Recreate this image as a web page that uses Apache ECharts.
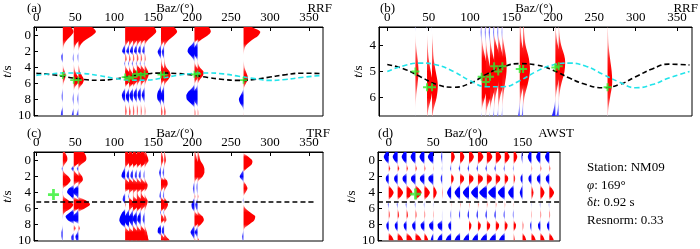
<!DOCTYPE html>
<html>
<head>
<meta charset="utf-8">
<script src="https://cdn.jsdelivr.net/npm/echarts@6/dist/echarts.min.js"></script>
<style>
  html, body { margin: 0; padding: 0; background: #fff; }
  #main { width: 700px; height: 249px; }
</style>
</head>
<body>
<div id="main"></div>
<script>
// time samples (s) shared by every trace
var times = [-1.5, -1, -0.5, 0, 0.5, 1, 1.5, 2, 2.5, 3, 3.5, 4, 4.5, 5, 5.5, 6, 6.5, 7, 7.5, 8, 8.5, 9, 9.5, 10];

// back azimuths of the receiver functions
var rfBaz = [34, 48, 54, 114, 119, 124, 129, 134, 139, 160, 164, 203, 207, 266];
// picked Ps times (green crosses)
var psTime = [5.0, 5.6, 5.6, 5.2, 5.4, 5.2, 4.8, 5.0, 4.8, 4.9, 4.9, 4.85, 4.8, 5.6];

var rrfTraces = [
  [0.25,0.45,0.55,0.42,0.22,0.08,0.02,0.00,-0.08,-0.07,0.00,0.03,0.10,0.15,0.10,0.03,0.00,-0.03,-0.06,-0.05,0.00,-0.02,-0.08,-0.10],
  [0.40,0.70,0.85,0.65,0.35,0.13,0.04,0.00,-0.04,-0.05,0.00,0.03,0.08,0.18,0.28,0.20,0.05,0.00,-0.04,-0.06,-0.03,0.00,-0.06,-0.10],
  [0.42,0.75,0.90,0.70,0.38,0.15,0.05,0.00,-0.05,-0.04,0.00,0.04,0.08,0.18,0.28,0.22,0.06,0.00,-0.04,-0.06,-0.03,0.00,-0.05,-0.10],
  [0.30,0.55,0.70,0.50,0.25,0.08,-0.10,-0.15,0.05,0.08,-0.05,0.05,0.18,0.30,0.32,0.15,0.00,-0.10,-0.17,-0.12,0.00,0.05,0.08,0.05],
  [0.30,0.55,0.72,0.52,0.25,0.08,-0.08,-0.14,0.04,0.08,-0.05,0.03,0.12,0.25,0.35,0.22,0.03,-0.08,-0.16,-0.14,-0.02,0.04,0.08,0.06],
  [0.32,0.58,0.75,0.55,0.26,0.08,-0.10,-0.15,0.05,0.07,-0.06,0.05,0.18,0.32,0.30,0.12,0.00,-0.10,-0.18,-0.12,0.00,0.05,0.07,0.05],
  [0.32,0.60,0.75,0.55,0.25,0.07,-0.10,-0.14,0.06,0.08,-0.05,0.12,0.30,0.33,0.20,0.06,-0.02,-0.12,-0.17,-0.10,0.00,0.05,0.06,0.04],
  [0.30,0.58,0.72,0.50,0.22,0.05,-0.10,-0.13,0.05,0.07,-0.05,0.10,0.25,0.37,0.26,0.08,-0.02,-0.12,-0.16,-0.10,0.00,0.04,0.06,0.04],
  [0.30,0.52,0.60,0.42,0.18,0.04,-0.08,-0.12,0.04,0.06,-0.04,0.08,0.18,0.20,0.12,0.04,-0.02,-0.10,-0.15,-0.08,0.00,0.03,0.05,0.03],
  [0.30,0.55,0.67,0.50,0.25,0.08,-0.08,-0.17,-0.10,0.02,0.05,0.12,0.28,0.33,0.20,0.05,-0.05,-0.15,-0.20,-0.18,-0.05,0.04,0.08,0.06],
  [0.30,0.55,0.67,0.50,0.25,0.08,-0.05,-0.12,-0.08,0.02,0.05,0.12,0.28,0.33,0.22,0.06,-0.04,-0.12,-0.18,-0.15,-0.04,0.04,0.08,0.06],
  [0.30,0.50,0.55,0.40,0.15,-0.10,-0.30,-0.35,-0.20,-0.05,0.03,0.12,0.28,0.25,0.12,0.02,-0.10,-0.30,-0.42,-0.40,-0.20,-0.02,0.05,0.05],
  [0.35,0.60,0.68,0.50,0.18,-0.05,-0.18,-0.22,-0.15,-0.03,0.03,0.12,0.30,0.28,0.12,0.02,-0.06,-0.20,-0.28,-0.25,-0.10,0.00,0.04,0.04],
  [0.15,0.50,0.86,0.75,0.45,0.20,0.06,0.02,0.00,0.00,0.02,0.05,0.12,0.20,0.22,0.12,0.03,-0.05,-0.15,-0.24,-0.18,-0.05,0.00,0.02]
];

var trfTraces = [
  [0.05,0.12,0.22,0.22,0.08,-0.06,0.08,0.30,0.40,0.25,0.02,-0.02,0.05,0.30,0.54,0.40,0.10,-0.02,0.00,0.00,-0.03,-0.08,-0.08,-0.03],
  [0.15,0.35,0.48,0.45,0.15,-0.12,0.10,0.30,0.32,0.05,-0.25,-0.34,-0.15,0.30,0.50,0.25,-0.20,-0.42,-0.30,0.00,0.10,0.00,-0.12,-0.10],
  [0.12,0.30,0.40,0.38,0.12,-0.08,0.06,0.20,0.22,0.05,-0.20,-0.30,-0.08,0.40,0.60,0.32,-0.10,-0.32,-0.28,0.00,0.08,-0.05,-0.15,-0.10],
  [0.05,0.15,0.28,0.30,0.12,-0.05,-0.15,-0.18,0.10,0.30,0.25,0.00,-0.10,-0.12,0.05,0.00,-0.15,-0.25,-0.30,-0.20,0.05,0.25,0.35,0.30],
  [0.05,0.15,0.28,0.30,0.15,0.00,-0.10,-0.12,0.12,0.30,0.28,0.05,-0.05,0.15,0.30,0.10,-0.10,-0.22,-0.25,-0.15,0.05,0.25,0.35,0.35],
  [0.05,0.15,0.30,0.35,0.15,0.00,-0.10,-0.12,0.10,0.32,0.25,0.05,0.05,0.25,0.35,0.15,-0.08,-0.20,-0.22,-0.10,0.10,0.28,0.35,0.35],
  [0.05,0.18,0.32,0.35,0.15,0.00,-0.08,-0.10,0.10,0.30,0.25,0.05,0.10,0.30,0.35,0.15,-0.05,-0.18,-0.20,-0.08,0.10,0.28,0.35,0.38],
  [0.05,0.18,0.32,0.35,0.15,0.00,-0.08,-0.10,0.10,0.28,0.22,0.05,0.12,0.32,0.30,0.10,-0.05,-0.15,-0.18,-0.05,0.12,0.28,0.35,0.40],
  [0.02,0.08,0.15,0.20,0.08,0.00,-0.05,-0.06,0.05,0.15,0.12,0.00,0.05,0.15,0.12,0.05,-0.02,-0.08,-0.10,-0.03,0.05,0.12,0.15,0.18],
  [0.02,0.05,0.10,0.12,0.05,-0.05,-0.10,-0.05,0.20,0.25,0.10,-0.05,-0.08,0.15,0.25,0.15,-0.05,0.10,0.15,0.00,-0.15,-0.17,0.10,0.30],
  [0.02,0.04,0.08,0.10,0.04,-0.04,-0.08,-0.03,0.15,0.18,0.08,-0.04,-0.06,0.12,0.20,0.12,-0.04,0.08,0.12,0.00,-0.10,-0.12,0.10,0.28],
  [0.03,0.05,0.10,0.15,0.25,0.30,0.30,0.20,0.05,-0.05,-0.08,-0.05,0.05,-0.08,-0.15,-0.12,0.05,0.25,0.30,0.15,-0.10,-0.20,-0.10,0.05],
  [0.03,0.05,0.10,0.15,0.28,0.35,0.35,0.25,0.05,-0.05,-0.06,-0.03,0.05,-0.05,-0.12,-0.08,0.05,0.25,0.32,0.18,-0.05,-0.15,-0.05,0.08],
  [0.00,0.00,0.25,0.45,0.40,0.15,-0.10,-0.20,-0.05,0.12,0.20,0.10,0.00,-0.04,0.00,0.10,0.35,0.60,0.55,0.30,0.05,-0.03,-0.08,-0.05]
];

// AWST stack, one trace every 10 degrees
var awstBaz = [0, 10, 20, 30, 40, 50, 60, 70, 80, 90, 100, 110, 120, 130, 140, 150, 160, 170, 180];
var awstTraces = [
  [-0.15,-0.4,-0.65,-0.4,0.05,0.2,0,-0.35,-0.35,-0.05,0.35,0.65,0.4,0,-0.12,-0.03,0.12,0.14,-0.03,-0.3,-0.25,0,0.4,0.65],
  [-0.15,-0.4,-0.65,-0.4,0.06,0.21,0,-0.42,-0.42,-0.07,0.4,0.72,0.44,0,-0.12,-0.03,0.15,0.18,-0.03,-0.36,-0.3,0,0.45,0.72],
  [-0.15,-0.4,-0.64,-0.4,0.05,0.18,0,-0.48,-0.48,-0.08,0.43,0.77,0.47,0,-0.12,-0.03,0.15,0.18,-0.03,-0.36,-0.3,0,0.5,0.8],
  [-0.15,-0.4,-0.64,-0.4,0.05,0.18,0,-0.54,-0.54,-0.09,0.45,0.81,0.5,0,-0.1,-0.02,0.12,0.14,-0.04,-0.42,-0.35,0,0.5,0.8],
  [-0.15,-0.4,-0.64,-0.4,0.04,0.14,0,-0.54,-0.54,-0.09,0.4,0.72,0.44,0,-0.08,-0.02,0.09,0.1,-0.04,-0.48,-0.4,0,0.3,0.48],
  [-0.18,-0.45,-0.72,-0.45,0.02,0.07,0,-0.6,-0.6,-0.1,0.25,0.45,0.28,0,-0.05,-0.01,0.06,0.07,-0.05,-0.54,-0.45,0,-0.2,-0.32],
  [-0.04,-0.1,-0.16,-0.1,-0.02,-0.07,0,-0.18,-0.18,-0.03,0.05,0.09,0.06,0,0,0,-0.03,-0.04,-0.05,-0.6,-0.5,0,-0.4,-0.64],
  [0.12,0.3,0.48,0.3,-0.04,-0.14,0,0.3,0.3,0.05,-0.3,-0.54,-0.33,0,0.05,0.01,-0.09,-0.1,-0.03,-0.36,-0.3,0,-0.45,-0.72],
  [0.14,0.35,0.56,0.35,-0.05,-0.18,0,0.48,0.48,0.08,-0.4,-0.72,-0.44,0,0.08,0.02,-0.12,-0.14,0,0,0,0,-0.45,-0.72],
  [0.16,0.4,0.64,0.4,-0.05,-0.18,0,0.54,0.54,0.09,-0.45,-0.81,-0.5,0,0.08,0.02,-0.15,-0.18,0.03,0.3,0.25,0,-0.45,-0.72],
  [0.18,0.45,0.72,0.45,-0.05,-0.18,0,0.6,0.6,0.1,-0.5,-0.9,-0.55,0,0.1,0.02,-0.15,-0.18,0.03,0.36,0.3,0,-0.45,-0.72],
  [0.18,0.45,0.72,0.45,-0.05,-0.18,0,0.6,0.6,0.1,-0.55,-1.0,-0.6,0,0.1,0.02,-0.15,-0.18,0.04,0.42,0.35,0,-0.5,-0.8],
  [0.18,0.45,0.72,0.45,-0.05,-0.18,0,0.54,0.54,0.09,-0.55,-1.0,-0.6,0,0.1,0.02,-0.15,-0.18,0.04,0.42,0.35,0,-0.5,-0.8],
  [0.16,0.4,0.64,0.4,-0.04,-0.14,0,0.42,0.42,0.07,-0.5,-0.9,-0.55,0,0.08,0.02,-0.12,-0.14,0.03,0.36,0.3,0,-0.45,-0.72],
  [0.12,0.3,0.48,0.3,-0.03,-0.1,0,0.18,0.18,0.03,-0.4,-0.72,-0.44,0,0.05,0.01,-0.09,-0.1,0.03,0.3,0.25,0,0.1,0.16],
  [-0.04,-0.1,-0.16,-0.1,0,0,0,-0.24,-0.24,-0.04,-0.2,-0.36,-0.22,0,0,0,0,0,0.01,0.12,0.1,0,0.3,0.48],
  [-0.12,-0.3,-0.48,-0.3,0.03,0.1,0,-0.36,-0.36,-0.06,0.15,0.27,0.17,0,-0.05,-0.01,0.06,0.07,-0.02,-0.18,-0.15,0,0.35,0.56],
  [-0.14,-0.35,-0.56,-0.35,0.04,0.14,0,-0.42,-0.42,-0.07,0.3,0.54,0.33,0,-0.08,-0.02,0.09,0.1,-0.03,-0.3,-0.25,0,0.35,0.56],
  [-0.14,-0.35,-0.56,-0.35,0.04,0.14,0,-0.42,-0.42,-0.07,0.35,0.63,0.39,0,-0.08,-0.02,0.09,0.1,-0.03,-0.3,-0.25,0,0.35,0.56]
];

// predicted Ps moveout curves (black and cyan dashed)
var curveBaz = [0, 20, 40, 60, 80, 100, 120, 140, 160, 180, 200, 220, 240, 260, 280, 300, 320, 340, 365];
var blackCurve = [4.73, 4.9, 5.2, 5.5, 5.6, 5.45, 5.1, 4.82, 4.7, 4.75, 4.95, 5.25, 5.5, 5.62, 5.5, 5.2, 4.9, 4.72, 4.75];
var cyanCurve = [5.0, 4.78, 4.68, 4.75, 5.0, 5.35, 5.58, 5.58, 5.35, 5.0, 4.75, 4.68, 4.8, 5.1, 5.4, 5.62, 5.5, 5.25, 5.0];

var psLine = 5.2;
var trfPick = [22, 4.25];
var awstPick = [30, 4.2];

var serif = 'Liberation Serif';

function tint(col, k) {
  var w = Math.round(255 * (1 - k));
  return col === 'r' ? 'rgb(255,' + w + ',' + w + ')' : 'rgb(' + w + ',' + w + ',255)';
}

// wiggle trace: red fill for positive, blue for negative, colour by amplitude
function wiggle(traces, bazList, scale, sat) {
  return function (params, api) {
    var i = params.dataIndex;
    var amps = traces[i], b = bazList[i];
    var top = api.coord([b, times[0]]);
    var bot = api.coord([b, times[times.length - 1]]);
    var h = bot[1] - top[1];
    var pos = [top], neg = [top], pStops = [], nStops = [];
    for (var k = 0; k < times.length; k++) {
      var a = amps[k];
      var p = api.coord([b + Math.max(a, 0) * scale, times[k]]);
      var n = api.coord([b + Math.min(a, 0) * scale, times[k]]);
      pos.push(p);
      neg.push(n);
      var off = (p[1] - top[1]) / h;
      var kk = Math.pow(Math.min(1, Math.abs(a) / sat), 0.6);
      pStops.push({ offset: off, color: tint('r', a > 0 ? kk : 0.1) });
      nStops.push({ offset: off, color: tint('b', a < 0 ? kk : 0.1) });
    }
    pos.push(bot);
    neg.push(bot);
    var x0 = top[0];
    var lim = [[x0, top[1]], [x0, bot[1]]];
    return {
      type: 'group',
      children: [
        {
          type: 'polygon',
          shape: { points: neg, smooth: 0.35, smoothConstraint: lim },
          style: { fill: new echarts.graphic.LinearGradient(0, top[1], 0, bot[1], nStops, true) }
        },
        {
          type: 'polygon',
          shape: { points: pos, smooth: 0.35, smoothConstraint: lim },
          style: { fill: new echarts.graphic.LinearGradient(0, top[1], 0, bot[1], pStops, true) }
        }
      ]
    };
  };
}

function xAx(idx, min, max, ticks) {
  return {
    gridIndex: idx, type: 'value', position: 'top', min: min, max: max,
    axisLine: { onZero: false, lineStyle: { color: '#000', width: 1 } },
    axisTick: { inside: true, length: 4, customValues: ticks, lineStyle: { color: '#000' } },
    axisLabel: { customValues: ticks, margin: 3, color: '#000', fontFamily: serif, fontSize: 13 },
    splitLine: { show: false }
  };
}

function yAx(idx, min, max, ticks, gap) {
  return {
    gridIndex: idx, type: 'value', inverse: true, min: min, max: max,
    name: '{i|t}/s', nameLocation: 'middle', nameGap: gap, nameRotate: 90,
    nameTextStyle: { color: '#000', fontFamily: serif, fontSize: 13, rich: { i: { fontStyle: 'italic', fontFamily: serif, fontSize: 13 } } },
    axisLine: { onZero: false, lineStyle: { color: '#000', width: 1 } },
    axisTick: { inside: true, length: 4, customValues: ticks, lineStyle: { color: '#000' } },
    axisLabel: { customValues: ticks, margin: 3, color: '#000', fontFamily: serif, fontSize: 13 },
    splitLine: { show: false }
  };
}

function traceSeries(idx, traces, bazList, scale, sat) {
  return {
    type: 'custom', xAxisIndex: idx, yAxisIndex: idx, clip: true, silent: true,
    renderItem: wiggle(traces, bazList, scale, sat),
    data: bazList.map(function (b) { return [b, 5]; })
  };
}

function dashSeries(idx, xs, ys, color) {
  return {
    type: 'line', xAxisIndex: idx, yAxisIndex: idx, smooth: true, showSymbol: false, silent: true,
    lineStyle: { color: color, width: 1.6, type: [5, 3] },
    data: xs.map(function (x, i) { return [x, ys[i]]; }),
    z: 3
  };
}

var plus = 'path://M3,0H5V3H8V5H5V8H3V5H0V3H3Z';

function crossSeries(idx, pts, size) {
  return {
    type: 'scatter', xAxisIndex: idx, yAxisIndex: idx, symbol: plus, symbolSize: size, silent: true,
    itemStyle: { color: '#2ef02e' }, data: pts, z: 4
  };
}

var psPts = rfBaz.map(function (b, i) { return [b, psTime[i]]; });
var bazTicks = [0, 50, 100, 150, 200, 250, 300, 350];
var tTicks = [0, 2, 4, 6, 8, 10];

function txt(x, y, s, align) {
  return {
    type: 'text', x: x, y: y, silent: true,
    style: {
      text: s, fill: '#000', fontFamily: serif, fontSize: 13, align: align || 'left', verticalAlign: 'top',
      rich: { i: { fontStyle: 'italic', fontFamily: serif, fontSize: 13 } }
    }
  };
}

var chart = echarts.init(document.getElementById('main'));
var gridStyle = { show: true, borderColor: '#000', borderWidth: 1, backgroundColor: 'transparent' };
var option = {
  animation: false,
  textStyle: { fontFamily: serif },
  grid: [
    Object.assign({ left: 32, top: 27, width: 291, height: 89 }, gridStyle),
    Object.assign({ left: 379, top: 27, width: 313, height: 89 }, gridStyle),
    Object.assign({ left: 32, top: 152, width: 291, height: 89 }, gridStyle),
    Object.assign({ left: 378, top: 152, width: 182, height: 89 }, gridStyle)
  ],
  xAxis: [
    xAx(0, -3, 368, bazTicks),
    xAx(1, -10, 368, bazTicks),
    xAx(2, -3, 368, bazTicks),
    xAx(3, -12, 192, [0, 50, 100, 150])
  ],
  yAxis: [
    yAx(0, -1.1, 10.1, tTicks, 20),
    yAx(1, 3.3, 6.7, [4, 5, 6], 14),
    yAx(2, -1.1, 10.1, tTicks, 20),
    yAx(3, -1.1, 10.1, tTicks, 19)
  ],
  series: [
    traceSeries(0, rrfTraces, rfBaz, 25, 0.15),
    traceSeries(1, rrfTraces, rfBaz, 25, 0.15),
    traceSeries(2, trfTraces, rfBaz, 25, 0.15),
    traceSeries(3, awstTraces, awstBaz, 8.5, 0.25),
    dashSeries(0, curveBaz, blackCurve, '#000'),
    dashSeries(0, curveBaz, cyanCurve, '#22e4ea'),
    dashSeries(1, curveBaz, blackCurve, '#000'),
    dashSeries(1, curveBaz, cyanCurve, '#22e4ea'),
    dashSeries(2, [0, 358], [psLine, psLine], '#000'),
    dashSeries(3, [-12, 192], [psLine, psLine], '#000'),
    crossSeries(0, psPts, 7),
    crossSeries(1, psPts, 8),
    crossSeries(2, [trfPick], 11),
    crossSeries(3, [awstPick], 11)
  ],
  graphic: [
    txt(27, 2, '(a)'), txt(175, 2, 'Baz/(°)', 'center'), txt(332, 2, 'RRF', 'right'),
    txt(380, 2, '(b)'), txt(534, 2, 'Baz/(°)', 'center'), txt(698, 2, 'RRF', 'right'),
    txt(27, 127, '(c)'), txt(175, 127, 'Baz/(°)', 'center'), txt(330, 127, 'TRF', 'right'),
    txt(378, 127, '(d)'), txt(463, 127, 'Baz/(°)', 'center'), txt(574, 127, 'AWST', 'right'),
    txt(587, 161, 'Station: NM09'),
    txt(587, 179, '{i|φ}: 169°'),
    txt(587, 196, 'δ{i|t}: 0.92 s'),
    txt(587, 214, 'Resnorm: 0.33')
  ]
};
chart.setOption(option);
</script>
</body>
</html>
